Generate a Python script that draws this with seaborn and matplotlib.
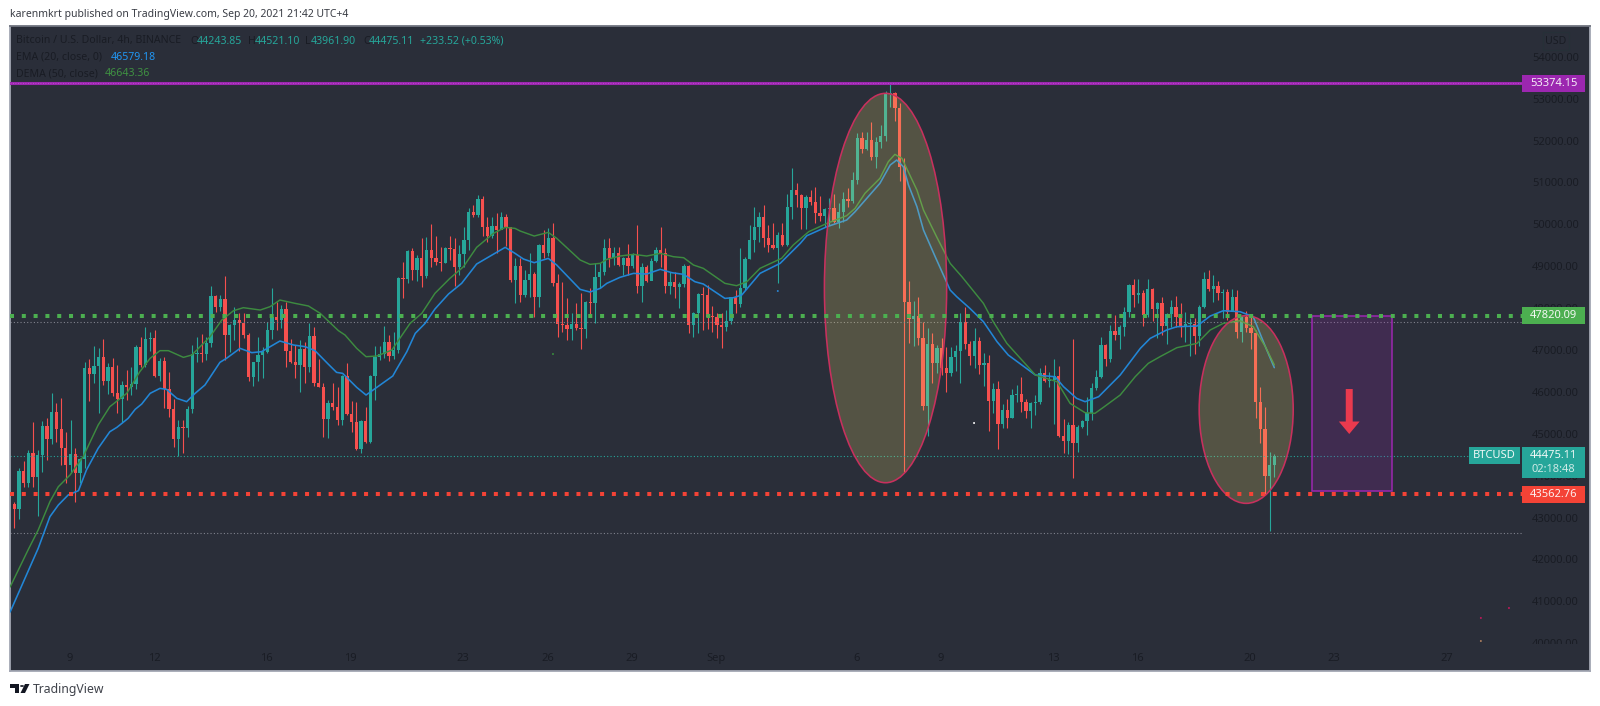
#!/usr/bin/env python3
"""BTCUSD 4h chart with EMA / DEMA, levels and drawings"""

import pandas as pd
import matplotlib
matplotlib.use('Agg')
import matplotlib.pyplot as plt
import seaborn as sns
from matplotlib.patches import Ellipse, Rectangle, Polygon, Circle
from matplotlib.transforms import Bbox

# candles (one per 4h), open is the previous close
first_open = 43324
closes = [43213, 44104, 43834, 44534, 43977, 44486, 45186, 44876, 45520, 45123,
          44653, 44255, 44518, 44072, 44390, 46563, 46428, 46619, 46841, 46268,
          46587, 45966, 45823, 46165, 46125, 46189, 47064, 46642, 47263, 47279,
          46380, 46738, 46077, 45584, 44876, 45170, 45147, 45584, 46897, 46937,
          46905, 47176, 48297, 48035, 48210, 47359, 47597, 47717, 47637, 47359,
          46364, 46706, 46881, 46961, 47478, 47796, 47717, 47971, 46980, 46714,
          46642, 47024, 46587, 47335, 46221, 46125, 45353, 45727, 45632, 45330,
          46388, 45473, 45290, 44637, 45306, 44812, 46388, 46841, 46897, 47199,
          46857, 47000, 48727, 48687, 49363, 48910, 49188, 48767, 49387, 49204,
          49109, 49069, 49427, 49410, 48989, 49284, 49626, 50302, 50223, 50605,
          49928, 49721, 49968, 49865, 50167, 49928, 48671, 49005, 48313, 48671,
          48814, 48273, 49507, 49324, 49666, 48592, 47613, 47597, 47501, 47621,
          47517, 47493, 48154, 48114, 48735, 48870, 49427, 49188, 49308, 49029,
          49188, 49005, 49268, 48528, 48989, 48655, 49133, 49387, 49308, 48536,
          48631, 48512, 48576, 49005, 47589, 47876, 48337, 48313, 47796, 47790,
          47597, 47557, 47700, 48257, 48098, 48472, 49172, 49626, 49928, 50183,
          49666, 49507, 49427, 49745, 49507, 50406, 50819, 50700, 50382, 50660,
          50541, 50262, 50207, 50358, 50382, 50064, 50302, 50605, 50565, 51058,
          52053, 51798, 52013, 51615, 51973, 52109, 53111, 53127, 52769, 51376,
          48154, 47732, 47812, 47294, 45663, 47143, 46682, 47040, 46578, 46459,
          46841, 46984, 47661, 47143, 46865, 47223, 46642, 46698, 45791, 46061,
          45234, 45568, 45385, 45926, 45950, 45751, 45552, 45727, 45751, 46443,
          46260, 46284, 46379, 44947, 44836, 45210, 44772, 45170, 45305, 45504,
          46085, 46347, 47119, 46785, 47453, 47358, 47541, 47899, 48552, 48313,
          48369, 47835, 48448, 47971, 48130, 47573, 47859, 48034, 47796, 47541,
          47621, 47630, 47334, 48018, 48695, 48448, 48528, 48369, 48392, 47915,
          48273, 47438, 47796, 47533, 47414, 45767, 45114, 43992, 44243.85, 44475.11]
highs = [43380, 44176, 44351, 44613, 45282, 44613, 45314, 45369, 45982, 45727,
         45847, 45051, 45330, 44653, 44430, 46722, 46778, 47096, 47040, 47263,
         46698, 46802, 46642, 46260, 46523, 46587, 47120, 47303, 47542, 47438,
         47478, 46802, 46825, 46467, 45823, 45330, 45330, 45672, 47120, 47319,
         47382, 47319, 48528, 48313, 48313, 48767, 47621, 48019, 47876, 47876,
         47398, 46722, 47303, 47080, 47677, 48488, 48154, 48075, 48154, 47263,
         47120, 47239, 47199, 47653, 47542, 46778, 46205, 45807, 46205, 46125,
         46404, 46682, 45791, 45767, 45330, 45632, 46404, 47096, 47096, 47573,
         47359, 47438, 48751, 49109, 49387, 49427, 49268, 49666, 49706, 50000,
         49729, 49467, 49467, 49721, 49666, 49507, 49944, 50398, 50461, 50700,
         50676, 50183, 50183, 50263, 50286, 50247, 49928, 49188, 49188, 48910,
         49308, 48870, 49531, 49865, 49904, 50040, 48814, 48631, 48233, 47876,
         48130, 48369, 48178, 48472, 49069, 49085, 49650, 49666, 49467, 49467,
         49228, 49531, 49324, 49984, 49069, 49029, 49188, 49467, 49944, 49427,
         48870, 48870, 48631, 49045, 49029, 47916, 48369, 48512, 48552, 48050,
         47876, 47876, 47955, 48273, 48432, 49427, 49228, 49984, 50422, 50302,
         50461, 49984, 50024, 49809, 50024, 50724, 51337, 50979, 50724, 50700,
         50819, 50899, 50676, 50398, 50621, 50716, 50501, 50780, 50859, 51257,
         52172, 52196, 52196, 52451, 52093, 52371, 53191, 53366, 53159, 52888,
         51575, 48655, 48178, 48273, 47661, 47517, 47398, 47119, 47279, 47080,
         47080, 47119, 47891, 48019, 47223, 47517, 47318, 46920, 46881, 46220,
         46260, 45703, 45823, 46061, 46165, 46363, 45823, 45767, 45926, 46562,
         46642, 46483, 46777, 46618, 45353, 45290, 47255, 45210, 45329, 45886,
         46204, 46522, 47302, 47135, 47597, 47835, 47597, 48018, 48575, 48687,
         48687, 48432, 48687, 48488, 48154, 48273, 47891, 48193, 48289, 48130,
         47915, 47756, 47756, 48074, 48854, 48910, 48790, 48647, 48448, 48456,
         48448, 48432, 47835, 47939, 47796, 47477, 46125, 45631, 44557, 44521.10]
lows = [42760, 42974, 43738, 43722, 43738, 43046, 44096, 44375, 44749, 44796,
        44255, 43818, 44056, 43380, 43834, 44176, 45783, 46221, 45505, 46165,
        45950, 45910, 45489, 45290, 45807, 45926, 46061, 46587, 46603, 46985,
        46348, 46260, 45608, 45409, 44693, 44470, 44550, 44932, 45505, 46722,
        46722, 46762, 47064, 47916, 47931, 46762, 46961, 47239, 46980, 47279,
        46260, 46149, 46268, 46324, 46921, 47263, 47478, 47518, 46603, 46682,
        46324, 45990, 46205, 46483, 46141, 46125, 44932, 44908, 45568, 45210,
        45210, 45449, 45051, 44613, 44550, 44772, 44772, 45807, 46762, 46802,
        46746, 46778, 46921, 48249, 48607, 48671, 48647, 48496, 48711, 48989,
        49029, 48886, 49069, 49149, 48528, 48791, 48973, 49387, 50183, 50183,
        49721, 49586, 49666, 49308, 49881, 49483, 48631, 48130, 48154, 48257,
        48273, 47780, 48035, 49188, 49244, 48536, 47318, 47438, 47239, 47239,
        47478, 47016, 47279, 47796, 47637, 48472, 48791, 48989, 49029, 49005,
        48791, 48791, 48950, 48353, 48138, 48631, 48671, 49109, 48989, 48369,
        48337, 48233, 47995, 48512, 47414, 47318, 47398, 47478, 47493, 47438,
        47295, 47040, 47462, 47621, 47891, 48035, 48432, 49164, 49347, 49586,
        49467, 49347, 49403, 48592, 49483, 49483, 50127, 50422, 49881, 49881,
        50461, 50040, 50080, 49944, 49984, 50024, 49904, 50064, 50406, 50501,
        50963, 51695, 51774, 51536, 51337, 51814, 51997, 52793, 52475, 51042,
        44096, 47159, 47103, 47119, 45568, 44947, 46204, 46443, 46403, 46006,
        46379, 46507, 46220, 47016, 46642, 46562, 46427, 46141, 45074, 45488,
        44629, 45130, 45146, 45369, 45751, 45528, 45369, 45146, 45448, 45703,
        46244, 46125, 45234, 44915, 44549, 44510, 43937, 44573, 45130, 44971,
        45329, 46045, 46323, 46626, 46721, 47239, 47016, 47334, 47796, 48034,
        48130, 47573, 47796, 47700, 47294, 47358, 47135, 47557, 47541, 47318,
        47199, 46857, 46905, 47095, 47994, 48408, 48154, 48193, 47756, 47716,
        47955, 47294, 47199, 47438, 47016, 45385, 44788, 43539, 42687, 43961.90]

# moving averages, read at the line's corners (candle index, price)
ema_idx = [-0.9, 5.1, 7.6, 9.4, 11.5, 13.7, 15.4, 17.9, 20.4, 21.9, 24.3, 25.8, 27.2, 29, 31.1,
           32.5, 34.7, 36.8, 38.6, 40.7, 43.9, 45.3, 48.2, 50.7, 52.8, 56.7, 59.6, 62.1, 64.2,
           67, 68.8, 70.1, 73.1, 75.1, 78.8, 80.8, 81.6, 83.8, 85.6, 87.7, 89.8, 92.7, 95.5,
           98.7, 102.6, 104.8, 106.9, 108.7, 111, 114, 115.8, 120.8, 122.9, 125.1, 126.5, 129.3,
           132.2, 135, 137.9, 140.4, 142.9, 145.3, 147.1, 151.7, 153.5, 155.3, 159.2, 163.5,
           167.8, 169.2, 173.5, 177.7, 179.5, 182, 184.8, 187, 188.4, 189.8, 190.9, 192.7, 194.1,
           196.6, 199.8, 201.2, 204, 206.9, 209.8, 212.2, 218, 222.2, 224, 226.8, 228.6, 231.5,
           236.1, 240.4, 242.5, 246, 248.2, 252.5, 255.3, 258.1, 261.7, 264.5, 267.1, 269]
ema_vals = [40746, 42266, 43022, 43300, 43539, 43643, 44136, 44653, 45051, 45154, 45369, 45584,
            45711, 45966, 46085, 46061, 45847, 45767, 45966, 46165, 46706, 46802, 47040, 46937,
            46961, 47215, 47120, 47080, 46985, 46666, 46467, 46443, 46109, 45926, 46221, 46380,
            46539, 46960, 47398, 47637, 47979, 48337, 48592, 49053, 49308, 49451, 49308, 49172,
            49085, 49188, 49029, 48448, 48385, 48472, 48592, 48735, 48830, 48814, 48926, 48846,
            48806, 48631, 48576, 48233, 48249, 48313, 48830, 49069, 49546, 49729, 49944, 50103,
            50302, 50621, 50979, 51416, 51536, 51376, 50939, 50422, 49865, 49228, 48432, 48273,
            47995, 47676, 47199, 46881, 46403, 46363, 46125, 45846, 45767, 45886, 46403, 47040,
            47278, 47477, 47557, 47573, 47811, 47939, 47915, 47796, 47079, 46579.18]
dema_idx = [-0.9, 3, 5.1, 7.6, 9.4, 11.9, 14.7, 17.9, 20.4, 24, 26.8, 29, 31.1, 32.9, 36.1, 37.9,
            41.8, 44.3, 46.8, 48.9, 52.5, 54.6, 56.7, 59.9, 62.8, 65.3, 69.2, 70.6, 73.1, 75.1,
            77.4, 80.6, 84.5, 87, 89.8, 93, 95.9, 98.7, 102.3, 104.8, 106.9, 108, 111, 114, 115.8,
            120.8, 122.9, 125.1, 126.5, 129.3, 132.2, 135, 137.9, 140.7, 142.9, 145, 147.1, 151.7,
            154.2, 156.4, 159.2, 163.8, 166.3, 169.6, 173.5, 177.7, 179.5, 181.6, 184.8, 186.6,
            188, 189.5, 192.7, 194.1, 196.9, 199.8, 202.3, 206.9, 209, 211.9, 218, 222.6, 225.4,
            228.6, 230.7, 232.5, 236.1, 239.3, 242.1, 244.6, 248.2, 252.5, 255.3, 258.1, 261.7,
            264.5, 267.1, 269]
dema_vals = [41343, 42242, 42704, 43380, 43738, 44017, 44454, 45210, 45648, 45966, 46483, 46802,
             46985, 46985, 46825, 46881, 47319, 47717, 47939, 48011, 47955, 48035, 48194, 48115,
             48051, 47876, 47462, 47359, 47040, 46841, 46857, 47000, 47637, 47876, 48353, 48711,
             48989, 49451, 49785, 49928, 49904, 49841, 49721, 49809, 49666, 49149, 49045, 49069,
             49165, 49244, 49284, 49244, 49308, 49228, 49204, 49029, 48950, 48592, 48536, 48631,
             48950, 49188, 49507, 49825, 50024, 50207, 50382, 50740, 51098, 51496, 51671, 51575,
             50819, 50342, 49705, 49069, 48751, 48114, 47676, 47159, 46403, 46244, 45727, 45504,
             45488, 45631, 45926, 46363, 46682, 46841, 47056, 47159, 47477, 47636, 47700, 47557,
             47079, 46643.36]

# levels
top_level = 53374.15
mid_level = 47820.09
low_level = 43562.76
last_price = 44475.11
hi_guide = 47660
lo_guide = 42630

# axis labels
price_ticks = list(range(40000, 55000, 1000))
date_ticks = [11.8, 29.8, 53.8, 71.8, 95.8, 113.8, 131.8, 149.8, 179.8, 197.8, 221.8, 239.8, 263.8, 281.8, 305.8]
date_labels = ['9', '12', '16', '19', '23', '26', '29', 'Sep', '6', '9', '13', '16', '20', '23', '27']

# stray specks left by the drawing tools
speck_idx = [313.1, 319.1, 313.1, 204.9, 163, 115]
speck_vals = [40604, 40842, 40054, 45258, 48409, 46905]
speck_colors = ['#c2185b', '#c2185b', '#b08060', '#ffffff', '#2a86d4', '#388e3c']

BG = '#2a2e39'
FAINT = '#191c24'
UP = '#26a69a'
DOWN = '#f6504e'
BLUE = '#2286d6'
GREEN = '#3d8b40'
W, H = 1600, 706

sns.set_theme(style='dark', rc={'axes.facecolor': BG, 'figure.facecolor': 'white'})
plt.rcParams['font.family'] = ['Noto Sans', 'DejaVu Sans']

fig = plt.figure(figsize=(W / 100, H / 100), dpi=100)
ax = fig.add_axes([10 / W, 1 - 671 / H, 1580 / W, 645 / H])
right_end = 321.9

df = pd.DataFrame({'high': highs, 'low': lows, 'close': closes})
df['open'] = [first_open] + closes[:-1]
df['idx'] = range(len(df))
df['color'] = [UP if c >= o else DOWN for c, o in zip(df['close'], df['open'])]
body = (df['close'] - df['open']).abs().clip(lower=26)
bottom = df[['open', 'close']].min(axis=1)

ax.vlines(df['idx'], df['low'], df['high'], colors=df['color'], linewidth=0.8, zorder=2)
ax.bar(df['idx'], body, bottom=bottom, width=0.7, color=df['color'], linewidth=0, zorder=2.1)

sns.lineplot(data=pd.DataFrame({'i': ema_idx, 'p': ema_vals}), x='i', y='p', ax=ax, color=BLUE,
             linewidth=1.15, estimator=None, sort=False, zorder=3)
sns.lineplot(data=pd.DataFrame({'i': dema_idx, 'p': dema_vals}), x='i', y='p', ax=ax, color=GREEN,
             linewidth=1.05, estimator=None, sort=False, zorder=3)

# ellipses and short box
ax.add_patch(Ellipse((186.0, 48480), 26.1, 9295, facecolor=(1, 0.92, 0.45, 0.2), edgecolor='#c8305e', linewidth=1.15, zorder=4))
ax.add_patch(Ellipse((263.0, 45580), 20.07, 4480, facecolor=(1, 0.92, 0.45, 0.2), edgecolor='#c8305e', linewidth=1.15, zorder=4))
ax.add_patch(Rectangle((277.1, 43625), 17.0, 47820 - 43625, facecolor=(0.612, 0.153, 0.69, 0.2), edgecolor='#9c27b0', linewidth=1.1, zorder=4))
ax.annotate('', xy=(285.0, 44995), xytext=(285.0, 46069), zorder=5,
            arrowprops=dict(arrowstyle='simple,head_width=15,head_length=9,tail_width=5', mutation_scale=1,
                            color='#ea3a4e', linewidth=0, shrinkA=0, shrinkB=0))

# levels
ax.plot([-1, right_end], [mid_level, mid_level], color='#4caf50', lw=2.9, ls=(0, (1, 1.93)), dash_capstyle='butt', zorder=5)
ax.plot([-1, right_end], [low_level, low_level], color='#f44336', lw=2.9, ls=(0, (1, 1.93)), dash_capstyle='butt', zorder=5)
ax.plot([-1, right_end], [top_level, top_level], color='#9c27b0', lw=2.2, zorder=5)
ax.plot([-1, right_end], [top_level, top_level], color='#c55ad6', lw=0.6, ls=(0, (1, 2)), zorder=5.1)
ax.plot([-1, right_end], [hi_guide, hi_guide], color='#80838e', lw=0.8, ls=(0, (1, 2)), zorder=2.5)
ax.plot([-1, right_end], [lo_guide, lo_guide], color='#80838e', lw=0.8, ls=(0, (1, 2)), zorder=2.5)
ax.plot([-1, 310.6], [last_price, last_price], color=UP, lw=0.8, ls=(0, (1, 2)), zorder=2.5)

ax.scatter(speck_idx, speck_vals, c=speck_colors, s=2, linewidths=0, zorder=3)

ax.set_xlim(-0.92, 336.4)
ax.set_ylim(39338, 54735)
ax.set_xlabel('')
ax.set_ylabel('')
ax.yaxis.tick_right()
ax.set_yticks(price_ticks, [f'{p:.2f}' for p in price_ticks], ha='right')
ax.set_xticks(date_ticks, date_labels)
ax.tick_params(axis='y', length=0, pad=-8, labelcolor=FAINT, labelsize=8)
ax.tick_params(axis='x', length=0, pad=-13, labelcolor=FAINT, labelsize=8)
ax.get_xticklabels()[7].set_fontweight('bold')
for lab in ax.get_yticklabels():
    lab.set_clip_on(True)
    lab.set_clip_box(Bbox([[0, H - 644], [W, H]]))
for side in ax.spines.values():
    side.set_color('#a3a7b3')
    side.set_linewidth(1.3)
ax.spines['top'].set_color('#70747f')


def px_text(x, y, s, color, size=7.6, ha='left', **kw):
    fig.text(x / W, 1 - y / H, s, color=color, fontsize=size, ha=ha, va='center', zorder=7, **kw)


def px_box(x0, y0, x1, y1, color):
    fig.add_artist(Rectangle((x0 / W, 1 - y1 / H), (x1 - x0) / W, (y1 - y0) / H, transform=fig.transFigure,
                             facecolor=color, edgecolor='none', zorder=6))


# price tags on the axis
px_box(1522, 75, 1585, 92, '#9c27b0')
px_text(1553.5, 83.5, '53374.15', '#f4eef6', size=8, ha='center')
px_box(1522, 307, 1585, 324, '#4caf50')
px_text(1553.5, 315.5, '47820.09', '#f2f8f2', size=8, ha='center')
px_box(1522, 486, 1585, 503, '#f44336')
px_text(1553.5, 494.5, '43562.76', '#fdeeee', size=8, ha='center')
px_box(1522, 447, 1585, 478, UP)
px_text(1553.5, 456, '44475.11', '#eef8f6', size=8, ha='center')
px_text(1553.5, 470, '02:18:48', '#cdeae6', size=8, ha='center')
px_box(1469, 447, 1520, 464, UP)
px_text(1494.5, 455.5, 'BTCUSD', '#eef8f6', size=8, ha='center')
fig.add_artist(Rectangle((1543 / W, 1 - 50 / H), 26 / W, 18 / H, transform=fig.transFigure, facecolor='none',
                         edgecolor='#263038', linewidth=1, zorder=6))
px_text(1556, 41, 'USD', FAINT, size=7.6, ha='center')

# legend rows
px_text(16.5, 41, 'Bitcoin / U.S. Dollar, 4h, BINANCE', FAINT)
for x, s in [(190, 'O'), (248, 'H'), (305, 'L'), (363, 'C')]:
    px_text(x, 41, s, FAINT)
for x, s in [(197, '44243.85'), (255, '44521.10'), (311, '43961.90'), (369, '44475.11'), (420, '+233.52 (+0.53%)')]:
    px_text(x, 41, s, UP)
px_text(16.5, 57, 'EMA (20, close, 0)', FAINT)
px_text(111, 57, '46579.18', '#2196f3')
px_text(16.5, 74, 'DEMA (50, close)', FAINT)
px_text(105, 74, '46643.36', '#3f9142')

# header and footer
px_text(9.5, 14.5, 'karenmkrt published on TradingView.com, Sep 20, 2021 21:42 UTC+4', '#3a3d45', size=7.5)
px_text(33, 689, 'TradingView', '#3f424a', size=8.8)
for pts in ([(10, 684), (19, 684), (19, 693), (15, 693), (15, 688), (10, 688)],
            [(25, 684), (29.5, 684), (25, 693), (20.5, 693)]):
    fig.add_artist(Polygon([(a / W, 1 - b / H) for a, b in pts], closed=True, transform=fig.transFigure,
                           facecolor='#131722', edgecolor='none'))
fig.add_artist(Circle((22 / W, 1 - 686 / H), 2 / W, transform=fig.transFigure, facecolor='#131722', edgecolor='none'))

fig.savefig('out.png', dpi=100)
